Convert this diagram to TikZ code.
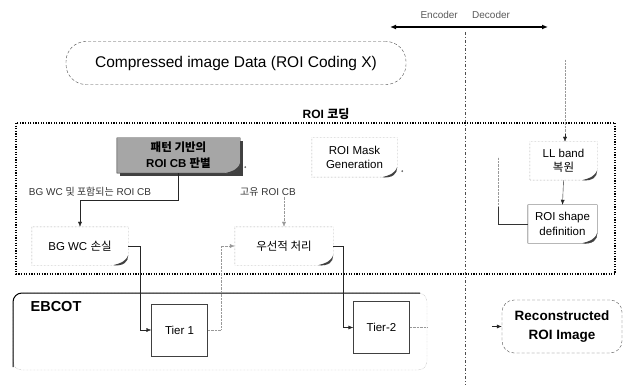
\documentclass[tikz,border=0pt]{standalone}
\usepackage{fontspec}
\setmainfont{Liberation Sans}
\newfontfamily\kr{Noto Sans CJK KR}
\usetikzlibrary{arrows.meta}

% outline of a page with a curled lower right corner
\newcommand\docpath[2]{%
  \draw[#2] (#1.north west) -- (#1.north east) -- ([yshift=10pt]#1.south east)
    .. controls ([yshift=3pt]#1.south east) and ([xshift=-5pt,yshift=-1pt]#1.south east) .. ([xshift=-15pt]#1.south east)
    -- (#1.south west) -- cycle;
  \fill[black!75] ([xshift=-15pt]#1.south east)
    .. controls ([xshift=-5pt,yshift=-1pt]#1.south east) and ([yshift=3pt]#1.south east) .. ([yshift=10pt]#1.south east)
    .. controls ([xshift=-3pt,yshift=3pt]#1.south east) and ([xshift=-8pt,yshift=2pt]#1.south east) .. cycle;}

\begin{document}
\begin{tikzpicture}[
  x=1pt, y=-1pt,
  every node/.style={inner sep=0pt, align=center},
  page/.style={minimum width=#1, minimum height=38},
  tierbox/.style={draw=black!75, minimum width=56, minimum height=52},
  cloud/.style={draw=black!70, densely dashed, rounded corners=#1},
  arr/.style={-{Latex[length=5pt,width=4pt]}, black!85},
  faintarr/.style={-{Latex[length=5pt,width=4pt]}, black!40, densely dotted},
  faint/.style={black!40, densely dotted},
  roiframe/.style={line width=1.6pt, dash pattern=on 1.2pt off 1.4pt},
  divline/.style={black!70, dash pattern=on 3pt off 2pt on 1pt off 2pt}
]
%general params
\def\boxfont{\fontsize{11.5}{14.5}\selectfont}
\def\lblfont{\fontsize{10}{12}\selectfont}

\useasboundingbox (0,0) rectangle (627,385);

%encoder / decoder split
\coordinate (encL) at (390,27);
\coordinate (decR) at (548,27);
\draw[{Latex[length=6pt,width=5pt]}-{Latex[length=6pt,width=5pt]}, line width=1.3pt] (encL) -- (decR);
\node[anchor=east, font=\lblfont, text=black!65] (enc) at (458,15) {Encoder};
\node[anchor=west, font=\lblfont, text=black!65] (dec) at (472,15) {Decoder};
\coordinate (divT) at (465,32);
\coordinate (divB) at (465,385);
\draw[divline] (divT) -- (divB);

%input data
\node[cloud=20pt, minimum width=340, minimum height=43, font=\fontsize{15.5}{18}\selectfont] (data) at (236,63) {Compressed image Data (ROI Coding X)};

%ROI coding frame
\node[font=\bfseries\fontsize{12}{14}\selectfont] (roilbl) at (326,114) {ROI {\kr\bfseries 코딩}};
\draw[roiframe] (16,123) rectangle (615,274);

%encoder side
\node[page=123, minimum height=35, font=\bfseries\fontsize{11.5}{16}\selectfont] (pat) at (178.5,155.5) {};
\fill[black!75] ([xshift=3pt,yshift=-3pt]pat.north west) rectangle ([xshift=3pt,yshift=-3pt]pat.south east);
\docpath{pat}{fill=black!35, draw=black!80}
\node[font=\bfseries\fontsize{11.5}{16}\selectfont] at (pat) {{\kr\bfseries 패턴 기반의}\\ROI CB {\kr\bfseries 판별}};
\fill[black!60] ([xshift=5pt,yshift=6pt]pat.south east) circle (1pt);

\node[page=85, minimum height=39, font=\boxfont] (mask) at (354.5,157.5) {ROI Mask\\Generation};
\docpath{mask}{black!50, densely dotted}
\fill[black!60] ([xshift=5pt,yshift=6pt]mask.south east) circle (1pt);

\node[font=\lblfont, text=black!80] (lblbg) at (90,192) {BG WC {\kr 및 포함되는} ROI CB};
\node[font=\lblfont, text=black!80] (lblhi) at (268,192) {{\kr 고유} ROI CB};

\node[page=96, font=\boxfont] (bgwc) at (80,246) {BG WC {\kr 손실}};
\docpath{bgwc}{black!50, densely dotted}
\node[page=98, font=\boxfont] (prio) at (284,246) {{\kr 우선적 처리}};
\docpath{prio}{black!50, densely dotted}

%decoder side
\node[page=67, font=\boxfont] (llb) at (563.5,161) {LL band\\{\kr 복원}};
\docpath{llb}{black!50, densely dotted}
\node[page=69, font=\boxfont] (shape) at (562.5,224) {ROI shape\\definition};
\docpath{shape}{black!80}

%EBCOT
\draw[faint, rounded corners=9pt] (13,293) rectangle (427,370);
\draw[line width=1pt, rounded corners=9pt] (13,367) -- (13,293) -- (420,293);
\node[font=\bfseries\fontsize{14.5}{17}\selectfont] (ebcot) at (56,307) {EBCOT};
\node[tierbox, font=\boxfont] (tier1) at (179.5,330) {Tier 1};
\node[tierbox, font=\boxfont] (tier2) at (381.5,327.5) {Tier-2};

\node[cloud=12pt, minimum width=120, minimum height=53, font=\bfseries\fontsize{13.5}{19}\selectfont] (recon) at (562,326.5) {Reconstructed\\ROI Image};

%connections
\draw[arr] (pat.south) -- ++(0,27) -| (bgwc.north);
\draw[faintarr] (lblhi.south -| prio.north) -- (prio.north);
\draw[arr] (bgwc.east) -- ++(12,0) |- (tier1.west);
\draw[faintarr] (tier1.east) -- ++(13,0) |- (prio.west);
\draw[arr] (prio.east) -- ++(10,0) |- (tier2.west);
\draw[faint] (tier2.east) -- (tier2.east -| 427,0);
\draw[arr] ([xshift=-10pt]recon.west) -- (recon.west);

\coordinate (decin) at (565,60);
\draw[faint] (decin) -- ([yshift=8pt]llb.north -| decin);
\draw[arr] ([yshift=8pt]llb.north -| decin) -- (llb.north -| decin);
\draw[arr] (llb.south) -- (shape.north);
\draw[black!80] (shape.west) -- ++(-30,0) coordinate (bend) -- ++(0,-18) coordinate (bendup);
\draw[faint] (bendup) -- ++(0,-49);
\end{tikzpicture}
\end{document}
